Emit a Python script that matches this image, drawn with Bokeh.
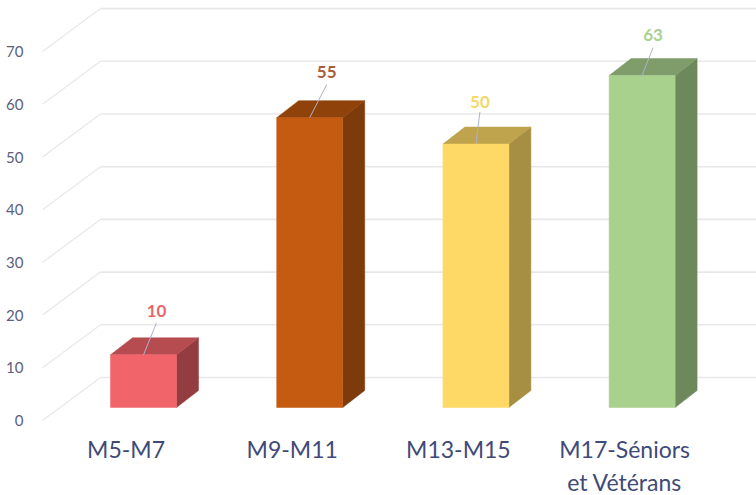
from bokeh.plotting import figure
from bokeh.models import LinearAxis, Range1d, FixedTicker
from bokeh.core.properties import value
from bokeh.embed import file_html
from bokeh.resources import INLINE

categories = ["M5-M7", "M9-M11", "M13-M15", "M17-Séniors\net Vétérans"]
values = [10, 55, 50, 63]
y_ticks = [0, 10, 20, 30, 40, 50, 60, 70]

front_colors = ["#f0646a", "#c55a11", "#ffd966", "#a9d18e"]
top_colors = ["#b64c50", "#8f4209", "#bfa34d", "#7f9d6b"]
side_colors = ["#943d40", "#7d3a0b", "#a68e43", "#6d895c"]
label_colors = ["#e8666b", "#a8603a", "#f7d769", "#a9d18e"]

# layout in px
W, H = 756, 495
FRAME_L, FRAME_B = 36, 428
ZERO_Y, PX_UNIT = 407.0, 5.27
FIRST_X, STEP_X = 143.0, 166.2
BAR_W, DEPTH_X, DEPTH_Y = 66.0, 22.0, 17.0
AXIS_Y0 = 420.0
BACK_Y0, BACK_X, DIAG_X = 377.0, 100.0, 42.0
LABEL_SHIFT = -17.5
LABEL_DX = [13, 17, 4, 11]       # label offset from leader foot
LEADER_TOP = [32, 33, 32, 28]
LABEL_UP = [44, 46, 42, 40]

ux = 1 / STEP_X
uy = 1 / PX_UNIT

x_start = (FRAME_L - FIRST_X) * ux
x_end = (W - FIRST_X) * ux
y_start = (ZERO_Y - FRAME_B) * uy
y_end = ZERO_Y * uy

p = figure(frame_width=W - FRAME_L, frame_height=FRAME_B, output_backend="svg", toolbar_location=None,
           x_range=Range1d(x_start, x_end), y_range=Range1d(y_start, y_end),
           x_axis_location=None, y_axis_location=None,
           min_border_left=FRAME_L, min_border_right=0, min_border_top=0,
           min_border_bottom=0, margin=(0, 0, 0, 0))
p.outline_line_color = None
p.grid.visible = False
p.background_fill_color = "white"

# Axes, placed on the front edge of the floor
p.extra_y_ranges = {"front": Range1d((AXIS_Y0 - FRAME_B) * uy, AXIS_Y0 * uy)}
p.extra_x_ranges = {"cat": Range1d(x_start - LABEL_SHIFT * ux, x_end - LABEL_SHIFT * ux)}

ya = LinearAxis(y_range_name="front", ticker=FixedTicker(ticks=y_ticks))
ya.axis_line_color = None
ya.major_tick_line_color = None
ya.minor_tick_line_color = None
ya.major_label_standoff = 7
ya.major_label_text_font = "Lato"
ya.major_label_text_font_size = "15px"
ya.major_label_text_color = "#5b6080"
p.add_layout(ya, "left")

xa = LinearAxis(x_range_name="cat", ticker=FixedTicker(ticks=list(range(len(categories)))),
                major_label_overrides={i: c for i, c in enumerate(categories)})
xa.axis_line_color = None
xa.major_tick_line_color = None
xa.minor_tick_line_color = None
xa.major_label_standoff = 0
xa.major_label_text_font = "Lato"
xa.major_label_text_font_size = "23px"
xa.major_label_text_color = "#3f4a78"
xa.major_label_text_align = "center"
p.add_layout(xa, "below")

# Gridlines on back wall and floor-side wall
back_dy = (ZERO_Y - BACK_Y0) * uy
diag_dy = (ZERO_Y - AXIS_Y0) * uy
bx = (BACK_X - FIRST_X) * ux
dx = (DIAG_X - FIRST_X) * ux
p.segment(x0=[bx] * len(y_ticks), x1=[x_end] * len(y_ticks),
          y0=[t + back_dy for t in y_ticks], y1=[t + back_dy for t in y_ticks],
          line_color="#e8e8e8", line_width=1.6)
p.segment(x0=[dx] * len(y_ticks), x1=[bx] * len(y_ticks),
          y0=[t + diag_dy for t in y_ticks], y1=[t + back_dy for t in y_ticks],
          line_color="#e8e8e8", line_width=1.3)

# 3D bars
hw = BAR_W / 2 * ux
ddx, ddy = DEPTH_X * ux, DEPTH_Y * uy
for i, v in enumerate(values):
    p.patch([i + hw, i + hw + ddx, i + hw + ddx, i + hw],
            [0, ddy, v + ddy, v], fill_color=side_colors[i], line_color=side_colors[i], line_width=0.5)
    p.patch([i - hw, i - hw + ddx, i + hw + ddx, i + hw],
            [v, v + ddy, v + ddy, v], fill_color=top_colors[i], line_color=top_colors[i], line_width=0.5)
p.quad(left=[i - hw for i in range(len(values))], right=[i + hw for i in range(len(values))],
       bottom=[0] * len(values), top=values, fill_color=front_colors, line_color=front_colors, line_width=0.5)

# Leader lines + value labels
n = range(len(values))
p.segment(x0=list(n), y0=values,
          x1=[i + LABEL_DX[i] * ux for i in n],
          y1=[values[i] + LEADER_TOP[i] * uy for i in n],
          line_color="#b0b0d0", line_width=1)
p.text(x=[i + LABEL_DX[i] * ux for i in n],
       y=[values[i] + LABEL_UP[i] * uy for i in n],
       text=[str(v) for v in values], text_color=label_colors,
       text_align="center", text_baseline="middle",
       text_font=value("Lato"), text_font_size="17px", text_font_style="bold")

open("out.html", "w").write(file_html(p, INLINE))
